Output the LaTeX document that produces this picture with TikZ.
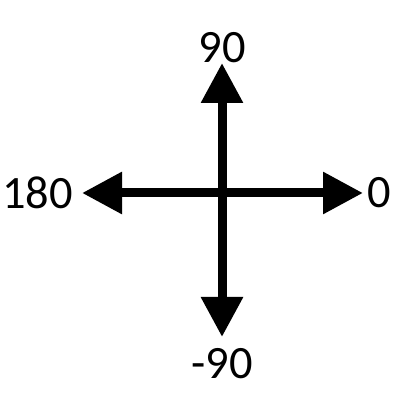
\documentclass[tikz,border=0pt]{standalone}
\usepackage{fontspec}
\setmainfont{Carlito}
\usetikzlibrary{arrows.meta,positioning}

\begin{document}
\begin{tikzpicture}[
    axis/.style={line width=0.225cm, -{Triangle[length=1cm, width=1cm]}},
    lbl/.style={inner sep=0pt, font=\fontsize{33}{40}\selectfont}
]
\useasboundingbox (-5.55,-5.175) rectangle (4.45,4.825);

% Centro e punte delle frecce
\coordinate (o) at (0,0);
\coordinate (tN) at (0,3.25);
\coordinate (tS) at (0,-3.6);
\coordinate (tW) at (-3.5,0);
\coordinate (tE) at (3.525,0);

% Frecce
\draw[axis] (o) -- (tN);
\draw[axis] (o) -- (tS);
\draw[axis] (o) -- (tW);
\draw[axis] (o) -- (tE);

% Etichette degli angoli
\node[lbl, above=0pt of tN] (l90) {90};
\node[lbl, below=0.275cm of tS] (lm90) {-90};
\node[lbl, left=0.22cm of tW] (l180) {180};
\node[lbl, right=0.1cm of tE] (l0) {0};

\end{tikzpicture}
\end{document}
